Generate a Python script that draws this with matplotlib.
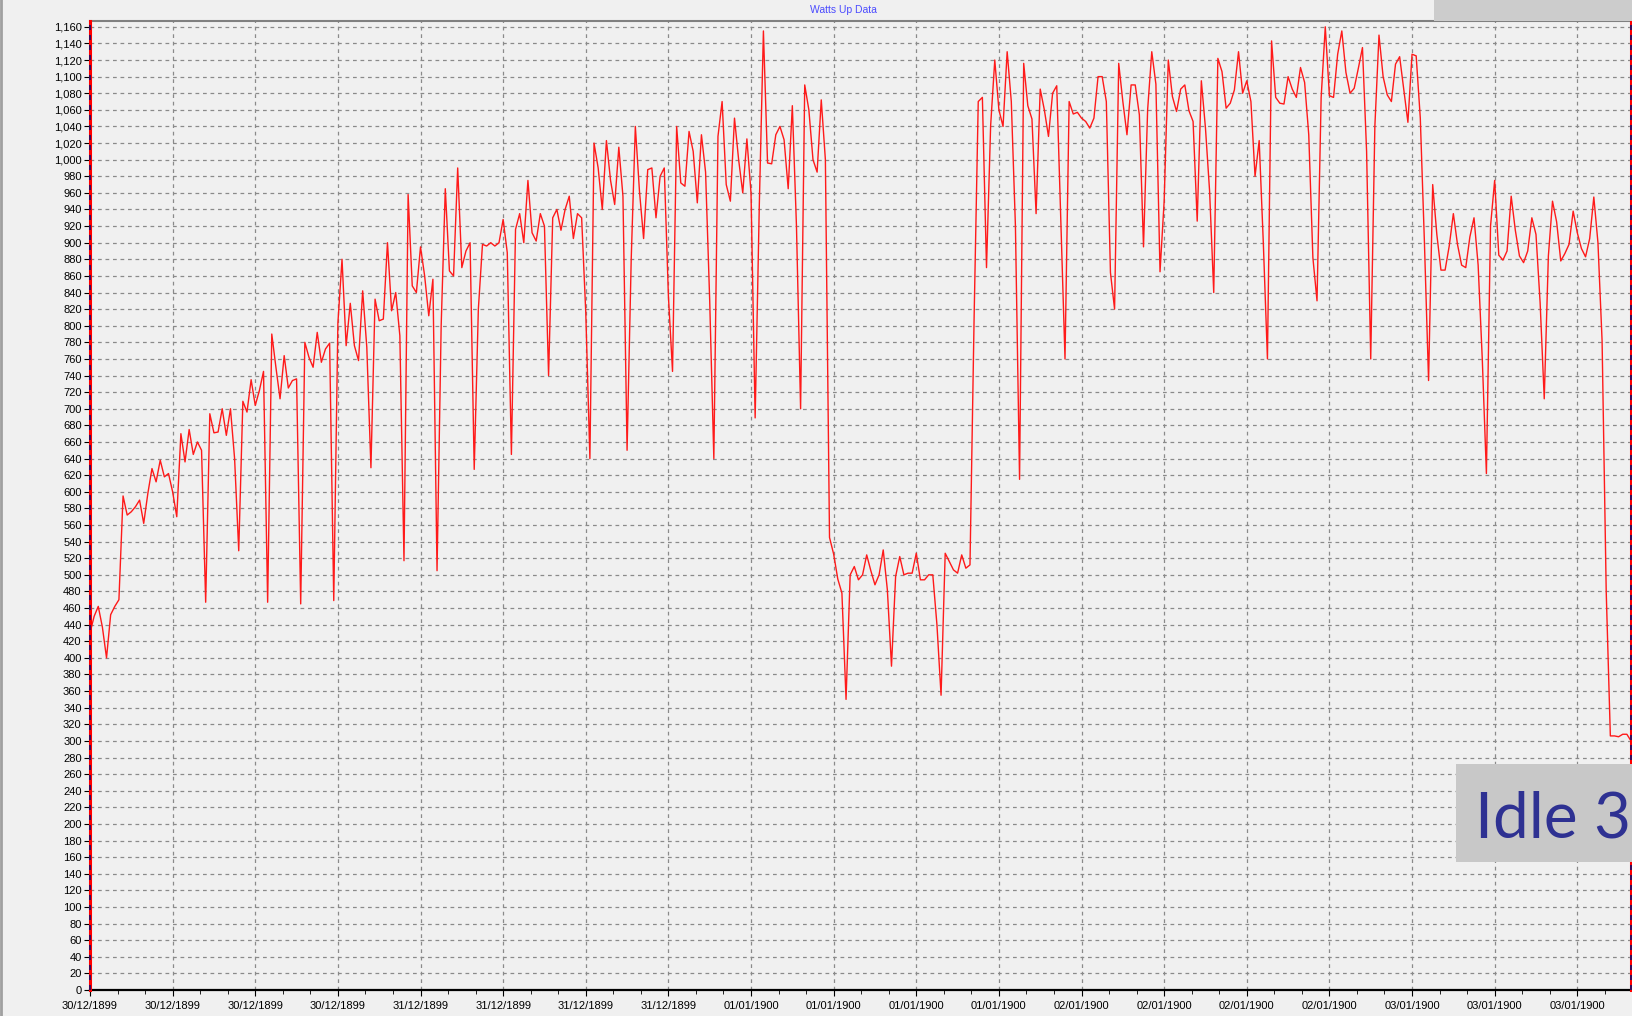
import numpy as np
import matplotlib.pyplot as plt
from matplotlib.ticker import FuncFormatter, MultipleLocator
from matplotlib.patches import Rectangle
from matplotlib.lines import Line2D

plt.rcParams['font.family'] = ['Liberation Sans', 'DejaVu Sans']

# readings every 0.3 h (20 per 6-hour tick)
day_3012 = [
    430, 450, 462, 437, 400, 452, 462, 470, 595, 572, 576, 582, 590, 562, 598, 628, 612, 638, 618, 622,
    600, 570, 670, 636, 675, 645, 660, 650, 467, 694, 671, 672, 700, 668, 700, 640, 529, 709, 696, 735,
    704, 722, 745, 467, 790, 750, 712, 764, 725, 734, 736, 465, 780, 762, 750, 792, 756, 772, 779, 469,
    803, 880, 776, 827, 776, 758, 842, 774, 629, 832, 806, 808, 900, 818, 840, 788, 517, 958, 848, 840,
]
day_3112 = [
    895, 860, 812, 856, 505, 800, 965, 866, 860, 990, 870, 890, 900, 627, 820, 898, 896, 900, 896, 900,
    928, 888, 645, 916, 935, 900, 975, 912, 902, 935, 920, 740, 930, 940, 915, 940, 956, 905, 935, 930,
    816, 640, 1020, 990, 940, 1023, 975, 946, 1015, 956, 650, 880, 1040, 962, 905, 988, 990, 930, 980, 990,
    836, 745, 1040, 972, 968, 1034, 1010, 948, 1030, 985, 830, 640, 1028, 1070, 970, 950, 1050, 1000, 960, 1025,
]
day_0101 = [
    960, 689, 944, 1155, 996, 995, 1030, 1040, 1024, 965, 1065, 920, 700, 1090, 1060, 1000, 985, 1072, 1000, 545,
    525, 495, 478, 350, 500, 510, 494, 500, 524, 505, 488, 500, 530, 482, 390, 498, 522, 500, 502, 502,
    526, 494, 494, 500, 500, 440, 355, 526, 516, 506, 502, 524, 508, 512, 810, 1070, 1075, 870, 1041, 1120,
    1060, 1040, 1130, 1070, 920, 615, 1116, 1065, 1049, 935, 1085, 1060, 1028, 1080, 1089, 923, 760, 1070, 1055, 1057,
]
day_0201 = [
    1050, 1046, 1038, 1050, 1100, 1100, 1070, 864, 820, 1116, 1070, 1030, 1090, 1090, 1054, 895, 1060, 1130, 1091, 865,
    950, 1120, 1076, 1058, 1085, 1090, 1059, 1046, 926, 1095, 1038, 962, 840, 1122, 1106, 1062, 1068, 1084, 1130, 1080,
    1095, 1070, 980, 1023, 900, 760, 1143, 1075, 1068, 1067, 1100, 1085, 1075, 1111, 1093, 1030, 882, 830, 1075, 1160,
    1077, 1075, 1127, 1155, 1105, 1080, 1086, 1110, 1135, 1010, 760, 1040, 1150, 1100, 1078, 1070, 1115, 1124, 1085, 1045,
]
day_0301 = [
    1127, 1125, 1050, 900, 734, 970, 910, 867, 867, 896, 935, 898, 873, 870, 907, 930, 873, 760, 622, 920,
    975, 885, 879, 890, 956, 915, 884, 876, 890, 930, 910, 828, 712, 884, 950, 925, 878, 887, 898, 938,
    912, 893, 883, 905, 955, 900, 782, 480, 306, 306, 305, 308, 308, 300,
]

tick_labels = (['30/12/1899'] * 4 + ['31/12/1899'] * 4 + ['01/01/1900'] * 4
               + ['02/01/1900'] * 4 + ['03/01/1900'] * 3)

watts = np.array(day_3012 + day_3112 + day_0101 + day_0201 + day_0301, dtype=float)
hours = np.arange(len(watts)) * 0.3

W, H = 1633, 1016
bg = '#f0f0f0'
fig = plt.figure(figsize=(W / 100, H / 100), dpi=100, facecolor=bg)
ax = fig.add_axes([90 / W, 26 / H, 1541 / W, 969 / H], facecolor=bg)

ax.plot(hours, watts, color='#ff1a1a', lw=1.0, zorder=3)

ax.set_xlim(0, hours[-1])
ax.set_ylim(0, 1167)
ax.yaxis.set_major_locator(MultipleLocator(20))
ax.yaxis.set_major_formatter(FuncFormatter(lambda v, p: f'{int(v):,}'))
ax.set_xticks(np.arange(len(tick_labels)) * 6)
ax.set_xticklabels(tick_labels)
ax.xaxis.set_minor_locator(MultipleLocator(2))

ax.tick_params(axis='both', labelsize=8, colors='black', length=4, width=0.8, pad=2)
ax.tick_params(axis='x', pad=4)
ax.tick_params(axis='x', which='minor', length=3, width=0.6)

ax.grid(True, which='major', color='#8a8a8a', linestyle=(0, (3, 3)), lw=0.9)

# spines
ax.spines['top'].set_color('#808080')
ax.spines['top'].set_linewidth(1.5)
ax.spines['bottom'].set_color('black')
ax.spines['bottom'].set_linewidth(1.6)
for side in ['left', 'right']:
    ax.spines[side].set_color('red')
    ax.spines[side].set_linewidth(2.2)
    ax.spines[side].set_zorder(4)
ax.axvline(0, color='#10106e', lw=1.2, linestyle=(0, (3, 3)), zorder=5, clip_on=False)
ax.axvline(hours[-1], color='#10106e', lw=1.2, linestyle=(0, (3, 3)), zorder=5, clip_on=False)

fig.text(843 / W, 1 - 10 / H, 'Watts Up Data', color='#4b4bff', fontsize=7.5,
         ha='center', va='center')

# window decorations
fig.add_artist(Line2D([1 / W, 1 / W], [0, 1], color='#a0a0a0', lw=2))
fig.add_artist(Rectangle((1434 / W, 1 - 21 / H), 199 / W, 21 / H, transform=fig.transFigure,
                         facecolor='#cccccc', edgecolor='none', zorder=5))
fig.add_artist(Rectangle((1456 / W, 1 - 862 / H), 177 / W, 98 / H, transform=fig.transFigure,
                         facecolor='#c8c8c8', edgecolor='none', zorder=5))
fig.text(1475 / W, 1 - 837 / H, 'Idle 3', color='#2e3192', fontsize=46,
         family=['Lato', 'DejaVu Sans'], va='baseline', ha='left', zorder=6)

fig.savefig('out.png', dpi=100, facecolor=bg)
